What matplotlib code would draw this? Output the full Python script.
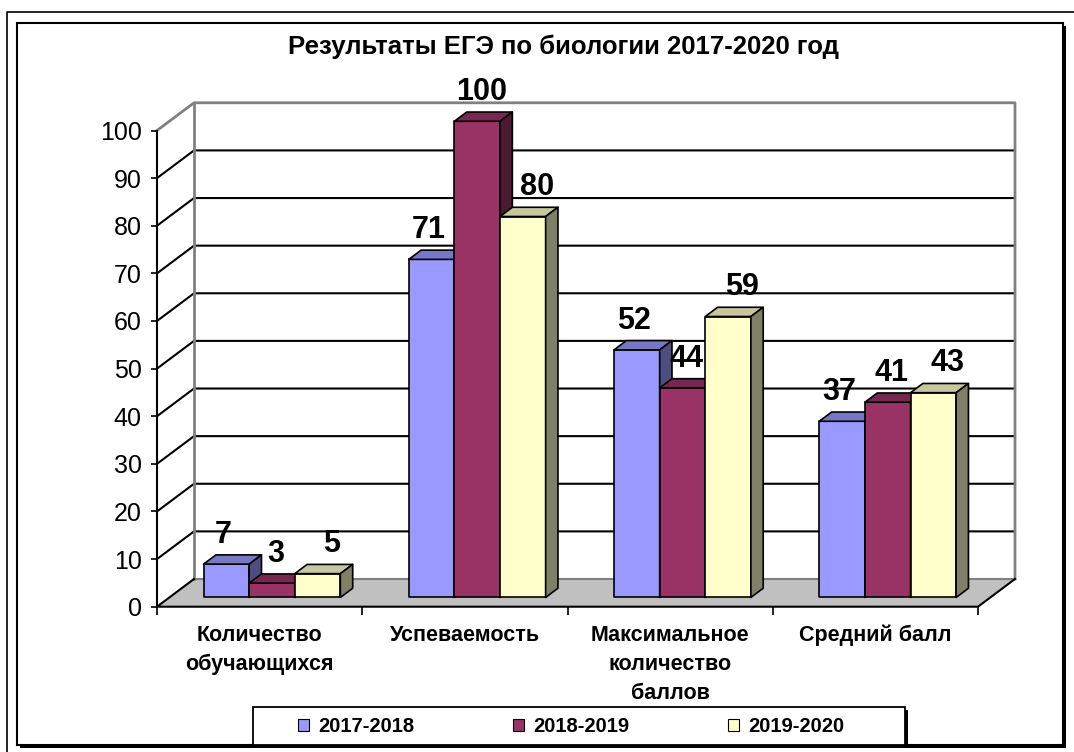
import numpy as np
import matplotlib.pyplot as plt
from matplotlib.patches import Polygon, Rectangle, Patch

plt.rcParams['font.family'] = ['Liberation Sans', 'DejaVu Sans']

title = 'Результаты ЕГЭ по биологии 2017-2020 год'
categories = ['Количество\nобучающихся', 'Успеваемость',
              'Максимальное\nколичество\nбаллов', 'Средний балл']
series = ['2017-2018', '2018-2019', '2019-2020']
values_2017_2018 = [7, 71, 52, 37]
values_2018_2019 = [3, 100, 44, 41]
values_2019_2020 = [5, 80, 59, 43]
yticks = [0, 10, 20, 30, 40, 50, 60, 70, 80, 90, 100]

front_colors = ['#9999FF', '#993366', '#FFFFCC']
label_dx = [-3, 4, 14]   # px shift of the value labels per series

W, H = 1074, 752
fig = plt.figure(figsize=(W / 100, H / 100), dpi=100)

# frames drawn in pixel coordinates
bg = fig.add_axes([0, 0, 1, 1])
bg.set_xlim(0, W)
bg.set_ylim(H, 0)
bg.axis('off')
bg.plot([7, 7, W], [H, 12, 12], color='black', lw=1.2)
bg.add_patch(Rectangle((20, 26), 1046, 722, facecolor='black', edgecolor='none'))
bg.add_patch(Rectangle((17, 23), 1046, 722, facecolor='white', edgecolor='black', lw=1.5))
# legend box with shadow
bg.add_patch(Rectangle((256, 710), 652, 38, facecolor='black', edgecolor='none', zorder=4))
bg.add_patch(Rectangle((253, 707), 652, 38, facecolor='white', edgecolor='black', lw=1.3, zorder=4))

# main axes: front plane of the 3d box
x0p, x1p, y0p, y100p = 157, 978, 606.7, 130.5
ax = fig.add_axes([x0p / W, 1 - y0p / H, (x1p - x0p) / W, (y0p - y100p) / H])
ax.set_xlim(0, 4)
ax.set_ylim(0, 100)
ax.patch.set_visible(False)
for s in ['top', 'right', 'bottom']:
    ax.spines[s].set_visible(False)
ax.spines['left'].set_linewidth(1.5)
ax.spines['left'].set_zorder(6)

# depth offset in data units
DX = 37 / ((x1p - x0p) / 4)
DY = 27.7 / ((y0p - y100p) / 100)

def P(x, v, d):
    return (x + d * DX, v + d * DY)

def line(pts, **kw):
    xs = [p[0] for p in pts]
    ys = [p[1] for p in pts]
    ax.plot(xs, ys, clip_on=False, **kw)

# walls and floor
ax.add_patch(Polygon([P(0, 0, 1), P(4, 0, 1), P(4, 100, 1), P(0, 100, 1)],
                     closed=True, fc='white', ec='none', clip_on=False, zorder=0.5))
ax.add_patch(Polygon([P(0, 0, 0), P(4, 0, 0), P(4, 0, 1), P(0, 0, 1)],
                     closed=True, fc='#C0C0C0', ec='none', clip_on=False, zorder=0.6))
for v in yticks[1:-1]:
    line([P(0, v, 0), P(0, v, 1), P(4, v, 1)], color='black', lw=1.5, zorder=0.7)
gray = '#808080'
line([P(0, 100, 0), P(0, 100, 1), P(4, 100, 1), P(4, 0, 1)], color=gray, lw=2, zorder=0.7)
line([P(0, 0, 1), P(0, 100, 1)], color=gray, lw=2, zorder=0.7)
line([P(0, 0, 1), P(4, 0, 1)], color=gray, lw=1.5, zorder=0.7)
line([P(0, 0, 1), P(0, 0, 0), P(4, 0, 0), P(4, 0, 1)], color='black', lw=1.5, zorder=0.8)

# bars
all_values = [values_2017_2018, values_2018_2019, values_2019_2020]
w = 1 / 4.5
start = 0.75 * w
d0, d1 = 1 / 3, 2 / 3
for i in range(len(categories)):
    for j, vals in enumerate(all_values):
        v = vals[i]
        xa = i + start + j * w
        xb = xa + w
        c = np.array(plt.matplotlib.colors.to_rgb(front_colors[j]))
        faces = [
            ([P(xa, 0, d0), P(xb, 0, d0), P(xb, v, d0), P(xa, v, d0)], c),
            ([P(xa, v, d0), P(xb, v, d0), P(xb, v, d1), P(xa, v, d1)], c * 0.78),
            ([P(xb, 0, d0), P(xb, 0, d1), P(xb, v, d1), P(xb, v, d0)], c * 0.5),
        ]
        for pts, fc in faces:
            ax.add_patch(Polygon(pts, closed=True, fc=fc, ec='black', lw=1.2,
                                 joinstyle='round', clip_on=False, zorder=2))
        xc = xa + w / 2 + d0 * DX
        ax.annotate(str(v), xy=(xc, v + d1 * DY), xytext=(label_dx[j] * 0.72, 20 * 0.72),
                    textcoords='offset points', ha='center', va='center',
                    fontsize=22, fontweight='bold', annotation_clip=False, zorder=10)

# axis ticks
ax.set_yticks(yticks)
ax.tick_params(axis='y', direction='out', length=4.5, width=1.2, pad=6.5, labelsize=18)
ax.set_xticks(range(5))
ax.set_xticklabels([])
ax.tick_params(axis='x', which='major', direction='out', length=6, width=1.2)
ax.set_xticks(np.arange(len(categories)) + 0.5, minor=True)
ax.set_xticklabels(categories, minor=True, fontsize=15.5, fontweight='bold')
ax.tick_params(axis='x', which='minor', length=0, pad=13)
for lbl in ax.get_xticklabels(minor=True):
    lbl.set_linespacing(1.5)

fig.text(564 / W, 1 - 47 / H, title, ha='center', va='center', fontsize=18.5, fontweight='bold')

handles = [Patch(facecolor=c, edgecolor='black', lw=0.8) for c in front_colors]
leg = fig.legend(handles, series, loc='center', bbox_to_anchor=(571 / W, 1 - 727 / H),
                 ncol=3, frameon=False, prop={'weight': 'bold', 'size': 14.5},
                 handlelength=0.55, handleheight=0.55, handletextpad=0.45,
                 columnspacing=4.9, borderpad=0)
leg.set_zorder(8)

fig.savefig('out.png', dpi=100)
